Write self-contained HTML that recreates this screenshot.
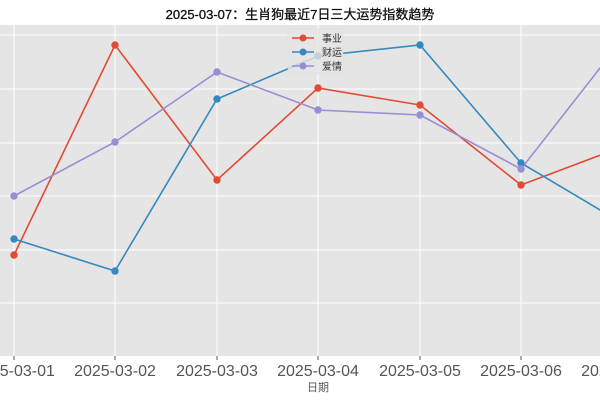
<!DOCTYPE html>
<html><head><meta charset="utf-8"><style>
html,body{margin:0;padding:0;background:#fff;}
svg{display:block;font-family:"Liberation Sans","Noto Sans CJK SC",sans-serif;}
</style></head><body>
<svg width="600" height="400" viewBox="0 0 600 400" xmlns="http://www.w3.org/2000/svg">
<rect x="0" y="0" width="600" height="400" fill="#fff"/>
<text x="300" y="19" text-anchor="middle" font-size="13" fill="#111" stroke="#111" stroke-width="0.3">2025-03-07：生肖狗最近7日三大运势指数趋势</text>
<rect x="0" y="25" width="600" height="331" fill="#e5e5e5"/>
<g stroke="#fff" stroke-width="1">
<line x1="0" y1="35" x2="600" y2="35"/><line x1="0" y1="89" x2="600" y2="89"/>
<line x1="0" y1="143" x2="600" y2="143"/><line x1="0" y1="196" x2="600" y2="196"/>
<line x1="0" y1="250" x2="600" y2="250"/><line x1="0" y1="303" x2="600" y2="303"/>
<line x1="14" y1="25" x2="14" y2="356"/><line x1="115" y1="25" x2="115" y2="356"/>
<line x1="217" y1="25" x2="217" y2="356"/><line x1="318" y1="25" x2="318" y2="356"/>
<line x1="420" y1="25" x2="420" y2="356"/><line x1="521" y1="25" x2="521" y2="356"/>
</g>
<g stroke="#555" stroke-width="1">
<line x1="14" y1="356" x2="14" y2="360"/><line x1="115" y1="356" x2="115" y2="360"/>
<line x1="217" y1="356" x2="217" y2="360"/><line x1="318" y1="356" x2="318" y2="360"/>
<line x1="420" y1="356" x2="420" y2="360"/><line x1="521" y1="356" x2="521" y2="360"/>
</g>
<g font-size="16" fill="#555" text-anchor="middle">
<text x="14" y="376">2025-03-01</text><text x="115" y="376">2025-03-02</text>
<text x="217" y="376">2025-03-03</text><text x="318" y="376">2025-03-04</text>
<text x="420" y="376">2025-03-05</text><text x="521" y="376">2025-03-06</text>
<text x="622" y="376">2025-03-07</text>
</g>
<text x="318" y="391" text-anchor="middle" font-size="11" fill="#555">日期</text>
<g fill="none" stroke-width="1.6">
<polyline stroke="#e24a33" points="14,255 115,45 217,180 318,88 420,105 521,185 622,147"/>
<polyline stroke="#348abd" points="14,239 115,271 217,99 318,56 420,45 521,163 622,223"/>
<polyline stroke="#988ed5" points="14,196 115,142 217,72 318,110 420,115 521,169 622,40"/>
</g>
<g fill="#e24a33"><circle cx="14" cy="255" r="3.7"/><circle cx="115" cy="45" r="3.7"/><circle cx="217" cy="180" r="3.7"/><circle cx="318" cy="88" r="3.7"/><circle cx="420" cy="105" r="3.7"/><circle cx="521" cy="185" r="3.7"/></g>
<g fill="#348abd"><circle cx="14" cy="239" r="3.7"/><circle cx="115" cy="271" r="3.7"/><circle cx="217" cy="99" r="3.7"/><circle cx="318" cy="56" r="3.7"/><circle cx="420" cy="45" r="3.7"/><circle cx="521" cy="163" r="3.7"/></g>
<g fill="#988ed5"><circle cx="14" cy="196" r="3.7"/><circle cx="115" cy="142" r="3.7"/><circle cx="217" cy="72" r="3.7"/><circle cx="318" cy="110" r="3.7"/><circle cx="420" cy="115" r="3.7"/><circle cx="521" cy="169" r="3.7"/></g>
<rect x="288" y="29" width="55" height="45" fill="#e5e5e5" fill-opacity="0.8" stroke="#ddd" stroke-width="0.5" rx="2"/>
<g stroke-width="1.5">
<line x1="292" y1="38" x2="314" y2="38" stroke="#e24a33"/><circle cx="303" cy="38" r="3.5" fill="#e24a33"/>
<line x1="292" y1="52" x2="314" y2="52" stroke="#348abd"/><circle cx="303" cy="52" r="3.5" fill="#348abd"/>
<line x1="292" y1="66" x2="314" y2="66" stroke="#988ed5"/><circle cx="303" cy="66" r="3.5" fill="#988ed5"/>
</g>
<g font-size="10" fill="#333">
<text x="322" y="42">事业</text><text x="322" y="56">财运</text><text x="322" y="70">爱情</text>
</g>
</svg>
</body></html>
